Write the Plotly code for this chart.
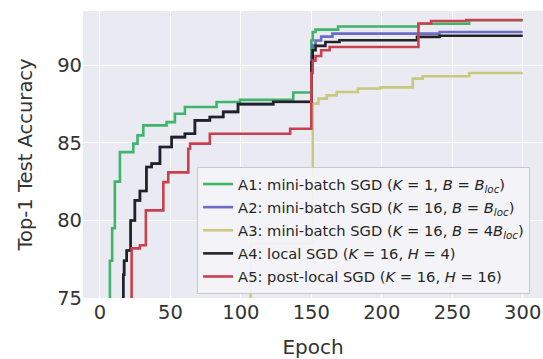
import plotly.graph_objects as go

# Best-so-far top-1 test accuracy per run (epoch at which each value is reached)
a1_epoch = [1, 7.1, 8.7, 10.6, 14.2, 23.7, 26.7, 30.8, 47.3, 53.2, 60.3, 82.8, 99.4, 137.2,
            150, 151, 153, 169, 226, 262, 300]
a1_acc = [60, 77.4, 79.5, 82.5, 84.4, 84.95, 85.48, 86.13, 86.34, 86.88, 87.31, 87.63, 87.77, 88.25,
          91.6, 92.15, 92.3, 92.5, 92.68, 92.9, 92.9]

a2_epoch = [1, 16.6, 17.2, 19, 21.8, 24.8, 28.4, 33, 36.7, 42.6, 50.9, 60.3, 67.4, 78, 87.5, 98, 123,
            150, 151, 153, 157, 165, 241, 300]
a2_acc = [60, 76.5, 77.4, 78.06, 80.0, 81.29, 81.9, 83.44, 83.66, 84.73, 85.37, 85.59, 86.45, 86.67,
          87.0, 87.5, 87.63, 90.6, 91.3, 91.6, 91.85, 92.04, 92.15, 92.15]

a3_epoch = [60, 107, 151, 155, 161, 168, 183, 199, 222, 229, 262, 300]
a3_acc = [72.0, 78.5, 87.53, 87.85, 88.06, 88.28, 88.5, 88.58, 89.14, 89.29, 89.5, 89.5]

a4_epoch = [1, 16.6, 17.2, 19, 21.8, 24.8, 28.4, 33, 36.7, 42.6, 50.9, 60.3, 67.4, 78, 87.5, 98, 123,
            150, 151, 153, 160, 170, 225, 241, 300]
a4_acc = [60, 76.5, 77.4, 78.06, 80.0, 81.29, 81.9, 83.44, 83.66, 84.73, 85.37, 85.59, 86.45, 86.67,
          87.0, 87.5, 87.65, 90.2, 90.97, 91.25, 91.5, 91.61, 91.83, 91.9, 91.9]

a5_epoch = [1, 22.5, 28.4, 32.6, 45, 48.5, 62.7, 64, 78, 135,
            150, 151, 153, 157, 163, 226, 235, 260, 300]
a5_acc = [60, 78.2, 78.4, 80.65, 82.47, 83.1, 84.62, 84.95, 85.59, 85.91,
          89.5, 90.3, 90.6, 90.97, 91.18, 92.69, 92.86, 92.92, 92.92]

labels = [
    "A1: mini-batch SGD (<i>K</i> = 1, <i>B</i> = <i>B</i><sub><i>loc</i></sub>)",
    "A2: mini-batch SGD (<i>K</i> = 16, <i>B</i> = <i>B</i><sub><i>loc</i></sub>)",
    "A3: mini-batch SGD (<i>K</i> = 16, <i>B</i> = 4<i>B</i><sub><i>loc</i></sub>)",
    "A4: local SGD (<i>K</i> = 16, <i>H</i> = 4)",
    "A5: post-local SGD (<i>K</i> = 16, <i>H</i> = 16)",
]
colors = ["#3fb46a", "#6b6bc8", "#c8c87e", "#222222", "#c9404f"]

series = [(a1_epoch, a1_acc), (a2_epoch, a2_acc), (a3_epoch, a3_acc),
          (a4_epoch, a4_acc), (a5_epoch, a5_acc)]

x_ticks = [0, 50, 100, 150, 200, 250, 300]
y_ticks = [75, 80, 85, 90]

fig = go.Figure()
for i, ((ep, acc), name, col) in enumerate(zip(series, labels, colors)):
    fig.add_trace(go.Scatter(
        x=ep, y=acc, mode="lines", name=name, legendgroup=f"g{i}",
        line=dict(color=col, width=2.6, shape="hv"),
    ))

font_family = "DejaVu Sans, Arial, sans-serif"

fig.update_layout(
    width=543, height=359,
    margin=dict(l=83, r=0, t=11, b=61),
    paper_bgcolor="white",
    plot_bgcolor="#EAEAF2",
    font=dict(family=font_family, color="#333333"),
    showlegend=True,
    legend=dict(
        x=0.248, y=0.014, xanchor="left", yanchor="bottom",
        bgcolor="rgba(244,244,248,0.92)",
        bordercolor="#c8c8c8", borderwidth=1,
        font=dict(family=font_family, size=14.7, color="#262626"),
        itemwidth=30,
        traceorder="grouped",
        tracegroupgap=1,
    ),
    xaxis=dict(
        range=[-12, 314.4], tickvals=x_ticks, ticks="",
        showgrid=True, gridcolor="white", gridwidth=1.2, zeroline=False,
        tickfont=dict(size=19.5, color="#333333"),
        title=dict(text="Epoch", font=dict(size=20, color="#333333"), standoff=17),
        showline=False,
    ),
    yaxis=dict(
        range=[75, 93.5], tickvals=y_ticks, ticks="",
        showgrid=True, gridcolor="white", gridwidth=1.2, zeroline=False,
        tickfont=dict(size=19.5, color="#333333"),
        title=dict(text="Top-1 Test Accuracy", font=dict(size=19.5, color="#333333"), standoff=19),
        showline=False,
    ),
)

fig.write_html("out.html")
